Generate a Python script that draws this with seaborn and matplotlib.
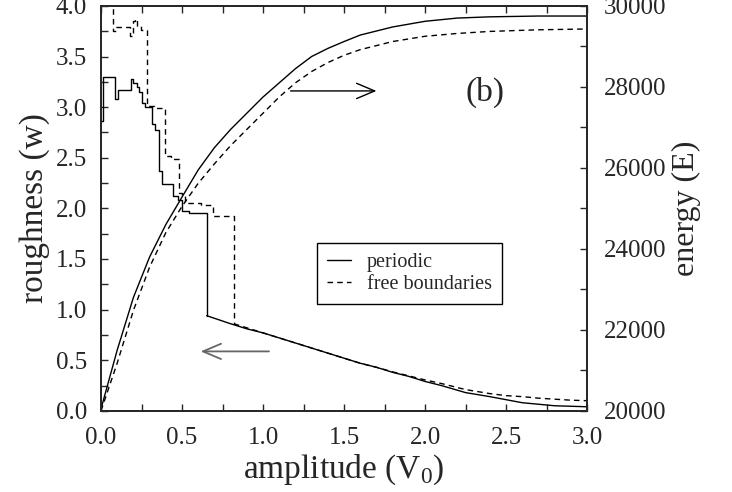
import numpy as np
import pandas as pd
import matplotlib
matplotlib.use("Agg")
import matplotlib.pyplot as plt
import seaborn as sns
from matplotlib.ticker import MultipleLocator, FormatStrFormatter

# roughness, periodic boundaries: step part then smooth tail
per_step_x = [0.0, 0.01, 0.086, 0.107, 0.183, 0.20, 0.22, 0.236, 0.251, 0.27, 0.313, 0.333,
              0.36, 0.374, 0.446, 0.475, 0.50, 0.54, 0.652]
per_step_w = [2.86, 3.30, 3.08, 3.17, 3.28, 3.24, 3.20, 3.15, 3.04, 3.00, 2.83, 2.77,
              2.37, 2.24, 2.12, 2.08, 1.97, 1.95, 0.94]
per_tail_x = [0.652, 0.8, 0.9, 1.0, 1.1, 1.2, 1.3, 1.4, 1.5, 1.6, 1.7, 1.8, 1.9, 2.0,
              2.1, 2.25, 2.4, 2.5, 2.6, 2.7, 2.8, 2.9, 3.0]
per_tail_w = [0.94, 0.86, 0.81, 0.77, 0.72, 0.67, 0.62, 0.57, 0.52, 0.47, 0.43, 0.38, 0.34, 0.29,
              0.25, 0.18, 0.14, 0.11, 0.08, 0.065, 0.05, 0.045, 0.04]

# roughness, free boundaries
free_step_x = [0.0, 0.072, 0.09, 0.18, 0.195, 0.21, 0.225, 0.245, 0.282, 0.33, 0.395, 0.43,
               0.483, 0.50, 0.52, 0.62, 0.69, 0.82]
free_step_w = [4.3, 3.75, 3.79, 3.70, 3.85, 3.87, 3.80, 3.76, 3.01, 2.99, 2.52, 2.49,
               2.15, 2.12, 2.05, 2.03, 1.92, 0.86]
free_tail_x = [0.82, 0.9, 1.0, 1.1, 1.2, 1.3, 1.4, 1.5, 1.6, 1.7, 1.8, 1.9, 2.0, 2.1,
               2.25, 2.4, 2.5, 2.6, 2.7, 2.8, 2.9, 3.0]
free_tail_w = [0.86, 0.82, 0.77, 0.72, 0.67, 0.62, 0.57, 0.52, 0.47, 0.43, 0.385, 0.345, 0.305, 0.27,
               0.21, 0.17, 0.15, 0.14, 0.125, 0.115, 0.105, 0.10]

# energy curves
energy_x = [0.0, 0.1, 0.2, 0.3, 0.4, 0.5, 0.6, 0.7, 0.8, 0.9, 1.0, 1.1, 1.2, 1.3, 1.4, 1.5,
            1.6, 1.8, 2.0, 2.2, 2.4, 2.7, 3.0]
energy_per = [20050, 21500, 22800, 23800, 24600, 25280, 25950, 26500, 26950, 27350, 27750, 28100,
              28450, 28750, 28950, 29120, 29280, 29480, 29620, 29700, 29730, 29750, 29750]
energy_free = [20000, 21180, 22480, 23550, 24400, 25050, 25620, 26100, 26550, 26950, 27350, 27750,
               28100, 28380, 28600, 28780, 28920, 29120, 29250, 29320, 29370, 29410, 29430]

sns.set_style("ticks")
plt.rcParams["font.family"] = ["Liberation Serif", "DejaVu Serif"]
plt.rcParams["mathtext.fontset"] = "custom"
plt.rcParams["mathtext.rm"] = "Liberation Serif"

fig = plt.figure(figsize=(7.32, 4.92), dpi=100)
ax = fig.add_axes([0.138, 0.165, 0.664, 0.823])
ax2 = ax.twinx()

dash = (0, (4, 3))
sns.lineplot(x=per_step_x, y=per_step_w, ax=ax, color="k", lw=1, drawstyle="steps-post",
             estimator=None, sort=False, label="periodic")
sns.lineplot(x=per_tail_x, y=per_tail_w, ax=ax, color="k", lw=1, estimator=None, sort=False)
sns.lineplot(x=free_step_x, y=free_step_w, ax=ax, color="k", lw=1, linestyle=dash,
             drawstyle="steps-post", estimator=None, sort=False, label="free boundaries")
sns.lineplot(x=free_tail_x, y=free_tail_w, ax=ax, color="k", lw=1, linestyle=dash,
             estimator=None, sort=False)

sns.lineplot(x=energy_x, y=energy_per, ax=ax2, color="k", lw=1, estimator=None, sort=False)
sns.lineplot(x=energy_x, y=energy_free, ax=ax2, color="k", lw=1, linestyle=dash,
             estimator=None, sort=False)

ax.set_xlim(0, 3)
ax.set_ylim(0, 4)
ax2.set_ylim(20000, 30000)
ax.xaxis.set_major_locator(MultipleLocator(0.5))
ax.xaxis.set_minor_locator(MultipleLocator(0.25))
ax.yaxis.set_major_locator(MultipleLocator(0.5))
ax.yaxis.set_minor_locator(MultipleLocator(0.25))
ax2.yaxis.set_major_locator(MultipleLocator(2000))
ax2.yaxis.set_minor_locator(MultipleLocator(1000))
ax.xaxis.set_major_formatter(FormatStrFormatter("%.1f"))
ax.yaxis.set_major_formatter(FormatStrFormatter("%.1f"))

ax.tick_params(which="both", direction="in", length=5, width=1, labelsize=18, pad=10,
               top=True, right=False)
ax.tick_params(axis="x", pad=12)
ax2.tick_params(which="both", direction="in", length=5, width=1, labelsize=18, pad=12)
for a in (ax, ax2):
    for s in a.spines.values():
        s.set_linewidth(1.3)
        s.set_visible(True)

ax.set_xlabel(r"amplitude (V$_0$)", fontsize=24, labelpad=2)
ax.set_ylabel("roughness (w)", fontsize=24, labelpad=4)
ax2.set_ylabel("energy (E)", fontsize=23, labelpad=4)

ax.annotate("", xy=(1.70, 3.16), xytext=(1.17, 3.16),
            arrowprops=dict(arrowstyle="->,head_length=1.3,head_width=0.55", lw=1, color="k",
                            mutation_scale=10, shrinkA=0, shrinkB=0))
ax.annotate("", xy=(0.615, 0.587), xytext=(1.037, 0.587),
            arrowprops=dict(arrowstyle="->,head_length=1.3,head_width=0.55", lw=1.3, color="0.4",
                            mutation_scale=10, shrinkA=0, shrinkB=0))
ax.text(2.37, 3.15, "(b)", fontsize=24, ha="center", va="center")

leg = ax.legend(loc="upper left", bbox_to_anchor=(0.444, 0.415), fontsize=14.5, frameon=True,
                fancybox=False, edgecolor="k", framealpha=1, handlelength=1.2,
                borderpad=0.5, labelspacing=0.15, borderaxespad=0)
leg.get_frame().set_linewidth(1)

fig.savefig("out.png", dpi=100)
